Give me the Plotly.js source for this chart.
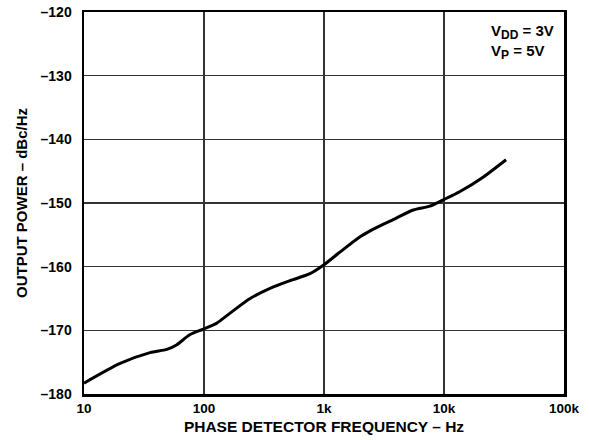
<!DOCTYPE html>
<html>
<head>
<meta charset="utf-8">
<script src="https://cdn.plot.ly/plotly-3.0.1.min.js"></script>
<style>html,body{margin:0;padding:0;background:#fff;}#chart{width:589px;height:440px;}</style>
</head>
<body>
<div id="chart"></div>
<script>
// Phase detector frequency (Hz)
const freq = [10, 20, 35.5, 49, 59, 76, 99, 127, 165, 242, 355, 521, 764, 1000, 1360, 2000, 2580, 3780, 5550, 7640, 9870, 13600, 21300, 32900];
// Output power (dBc/Hz)
const powerDb = [-178.3, -175.2, -173.5, -173.0, -172.3, -170.7, -169.8, -168.9, -167.3, -165.0, -163.4, -162.2, -161.1, -159.7, -157.7, -155.3, -154.1, -152.6, -151.1, -150.5, -149.5, -148.2, -145.9, -143.2];
const xTickVals = [10, 100, 1000, 10000, 100000];
const xTickText = ["10", "100", "1k", "10k", "100k"];
const yTickVals = [-180, -170, -160, -150, -140, -130, -120];
const yTickText = ["–180", "–170", "–160", "–150", "–140", "–130", "–120"];

const FONT = "Liberation Sans, Arial, Helvetica, sans-serif";

const trace = {
  x: freq, y: powerDb, type: "scatter", mode: "lines",
  line: {color: "#000", width: 3, shape: "spline", smoothing: 0.7},
  hoverinfo: "skip", showlegend: false
};

const layout = {
  width: 589, height: 440,
  margin: {l: 84, r: 25, t: 12, b: 46},
  paper_bgcolor: "#fff", plot_bgcolor: "#fff",
  font: {family: FONT, color: "#000"},
  xaxis: {
    type: "log", range: [1, 5],
    tickvals: xTickVals, ticktext: xTickText,
    tickfont: {family: FONT, size: 13.5, weight: "bold", color: "#000"},
    showgrid: true, gridcolor: "#333", gridwidth: 1.2,
    showline: true, linecolor: "#000", linewidth: 2.5, mirror: true,
    ticks: "", zeroline: false,
    title: {text: "PHASE DETECTOR FREQUENCY – Hz", font: {family: FONT, size: 15.5, weight: "bold", color: "#000"}, standoff: 7}
  },
  yaxis: {
    range: [-180, -120],
    tickvals: yTickVals, ticktext: yTickText,
    tickfont: {family: FONT, size: 14, weight: "bold", color: "#000"},
    showgrid: true, gridcolor: "#333", gridwidth: 1.2,
    showline: true, linecolor: "#000", linewidth: 2.5, mirror: true,
    ticks: "", zeroline: false, ticklabelstandoff: 7,
    title: {text: "OUTPUT POWER – dBc/Hz", font: {family: FONT, size: 15, weight: "bold", color: "#000"}, standoff: 10}
  },
  annotations: [{
    xref: "paper", yref: "paper", x: 0.843, y: 0.978,
    xanchor: "left", yanchor: "top", align: "left", showarrow: false,
    text: "V<sub><span style=\"font-size:12px\">DD</span></sub> = 3V<br>V<sub><span style=\"font-size:12px\">P</span></sub> = 5V",
    font: {family: FONT, size: 15, weight: "bold", color: "#000"}
  }]
};

Plotly.newPlot("chart", [trace], layout, {displayModeBar: false, staticPlot: true});
</script>
</body>
</html>
